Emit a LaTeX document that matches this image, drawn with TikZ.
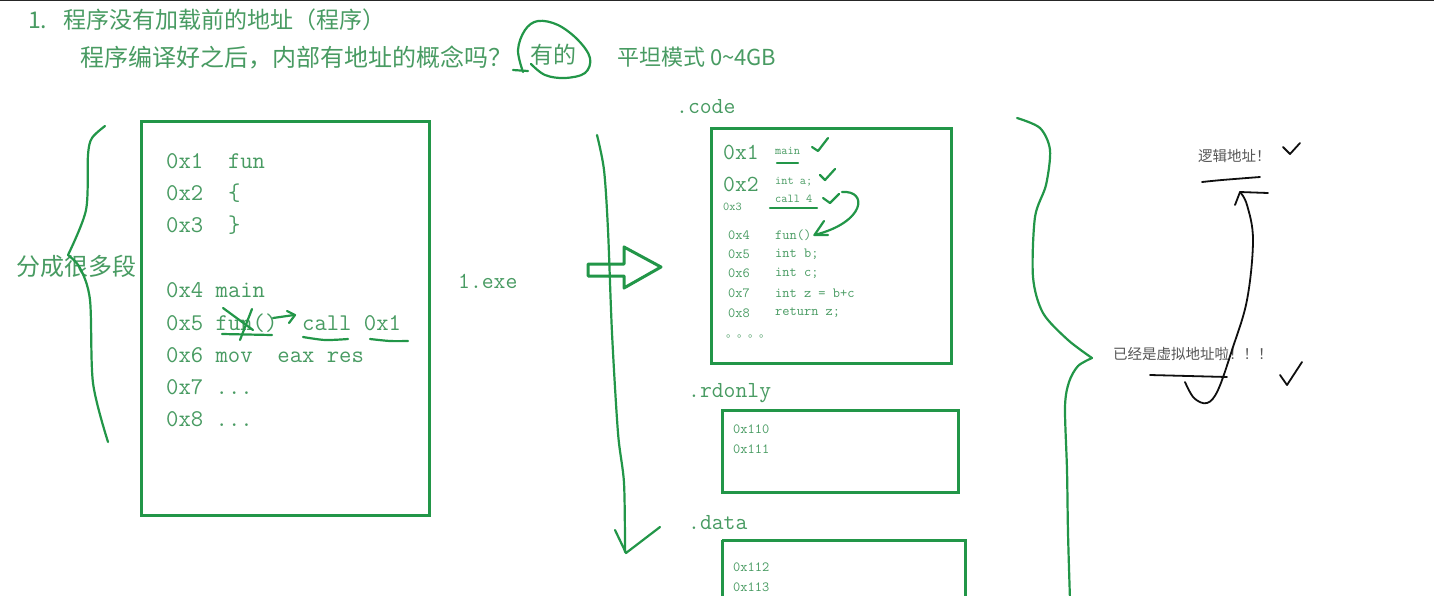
\documentclass[tikz,border=0pt]{standalone}
\usepackage{fontspec}
\newfontfamily\cjk{Noto Sans CJK SC}
\usetikzlibrary{arrows.meta, positioning, calc}
\definecolor{pengreen}{RGB}{34,150,72}
\definecolor{txtgreen}{RGB}{72,155,98}
\definecolor{inkblack}{RGB}{15,15,15}
\definecolor{notegray}{RGB}{85,85,85}

\begin{document}
\begin{tikzpicture}[
    x=1pt, y=-1pt,
    pen/.style={draw=pengreen, line width=2.2pt, line cap=round, line join=round},
    ink/.style={draw=inkblack, line width=1.8pt, line cap=round, line join=round},
    segbox/.style={draw=pengreen, line width=3pt},
    txt/.style={text=txtgreen, inner sep=0pt, anchor=west},
    zh/.style={txt, font=\fontsize{23}{27}\selectfont\cjk},
    asm/.style={txt, font=\fontsize{24}{28}\selectfont\ttfamily},
    tiny/.style={txt, font=\fontsize{14}{16}\selectfont\ttfamily},
    note/.style={inner sep=0pt, anchor=west, text=notegray, font=\fontsize{14.5}{17}\selectfont\cjk}
]
  \useasboundingbox (0,0) rectangle (1434,595);
  \fill[white] (0,0) rectangle (1434,595);
  \draw[line width=2.5pt, black!85] (0,0) -- (1434,0);

  % Heading
  \node[zh] (title) at (28,20) {1.\hspace{0.7em}程序没有加载前的地址（程序）};
  \node[zh, font=\fontsize{24}{28}\selectfont\cjk] (ask) at (80,57) {程序编译好之后，内部有地址的概念吗？};
  \node[zh] (yes) at (530,55) {有的};
  \node[zh, font=\fontsize{22}{26}\selectfont\cjk] (flat) at (617,57) {平坦模式 0\textasciitilde4GB};
  \draw[pen] plot[smooth, tension=0.6] coordinates {(523,72) (518,50) (525,30) (538,21) (558,25) (578,40) (590,58) (585,73) (565,78) (545,75) (531,64)};
  \draw[pen] (513,70) -- (528,71);

  % Program before loading
  \node[segbox, minimum width=288pt, minimum height=394pt, inner sep=0pt] (prog) at (285,318) {};
  \node[asm] (p1) at (166,161) {0x1\ \ fun};
  \node[asm] (p2) at (166,193) {0x2\ \ \{};
  \node[asm] (p3) at (166,225) {0x3\ \ \}};
  \node[asm] (p4) at (166,290) {0x4 main};
  \node[asm] (p5) at (166,323) {0x5 fun()\ \ call 0x1};
  \node[asm] (p6) at (166,355) {0x6 mov\ \ eax res};
  \node[asm] (p7) at (166,387) {0x7 ...};
  \node[asm] (p8) at (166,419) {0x8 ...};
  \draw[pen] (223,308) -- (253,330);
  \draw[pen] (252,309) -- (240,340);
  \draw[pen] (222,334) -- (272,335);
  \draw[pen] (273,318) -- (294,315);
  \draw[pen] (287,311) -- (295,315) -- (289,323);
  \draw[pen] plot[smooth] coordinates {(303,337) (325,340) (348,339)};
  \draw[pen] plot[smooth] coordinates {(370,339) (390,341) (408,341)};

  % Left brace
  \node[zh, font=\fontsize{24}{28}\selectfont\cjk] (segs) at (16,266) {分成很多段};
  \draw[pen] plot[smooth] coordinates {(105,126) (92,138) (88,155) (86,210) (68,255)};
  \draw[pen] plot[smooth] coordinates {(68,255) (80,268) (90,300) (93,383) (108,442)};

  % Middle
  \node[asm, font=\fontsize{23}{27}\selectfont\ttfamily] (exe) at (458,281) {1.exe};
  \draw[pen] plot[smooth] coordinates {(597,135) (604,170) (608,230) (612,333) (618,433) (624,483) (625,552)};
  \draw[pen] (615,530) -- (626,553) -- (660,527);
  \draw[pen, line width=3pt] (588,264) -- (624,264) -- (624,247) -- (661,267) -- (624,288) -- (624,276) -- (588,276) -- cycle;

  % .code section
  \node[asm, font=\fontsize{23}{27}\selectfont\ttfamily] (code) at (676,107) {.code};
  \node[segbox, minimum width=240pt, minimum height=235pt, inner sep=0pt] (codebox) at (831,245.5) {};
  \node[asm, font=\fontsize{23}{27}\selectfont\ttfamily] (c1) at (723,152) {0x1};
  \node[asm, font=\fontsize{23}{27}\selectfont\ttfamily] (c2) at (723,184) {0x2};
  \node[tiny, font=\fontsize{12}{14}\selectfont\ttfamily] (c3) at (723,207) {0x3};
  \node[tiny, font=\fontsize{12}{14}\selectfont\ttfamily] (cm) at (775,151) {main};
  \node[tiny, font=\fontsize{12}{14}\selectfont\ttfamily] (ca) at (775,182) {int a;};
  \node[tiny, font=\fontsize{12}{14}\selectfont\ttfamily] (cc) at (775,199) {call 4};
  \foreach \n/\y/\a/\s in {4/235/0x4/fun(), 5/254/0x5/int b;, 6/273/0x6/int c;, 7/293/0x7/int z = b+c, 8/313/0x8/return z;}{
    \node[tiny] (a\n) at (728,\y) {\a};
    \node[tiny] (f\n) at (775,\y) {\s};
  }
  \node[txt, font=\fontsize{11}{12}\selectfont\cjk] (cdots) at (726,336) {。。。。};
  \draw[pen] (777,163) -- (798,163);
  \draw[pen] (812,147) -- (818,151) -- (828,138);
  \draw[pen] (820,175) -- (825,180) -- (835,169);
  \draw[pen] (770,208) -- (817,208);
  \draw[pen] (823,198) -- (830,203) -- (839,194);
  \draw[pen] (842,192) .. controls (868,190) and (866,222) .. ([xshift=3pt]f4.east);
  \draw[pen] (824,221) -- ([xshift=3pt]f4.east) -- (828,235);

  % .rdonly section
  \node[asm, font=\fontsize{23}{27}\selectfont\ttfamily] (rdo) at (688,393) {.rdonly};
  \node[segbox, minimum width=236pt, minimum height=82pt, inner sep=0pt] (rdobox) at (840,451) {};
  \node[tiny] (r1) at (733,429) {0x110};
  \node[tiny] (r2) at (733,449) {0x111};

  % .data section
  \node[asm, font=\fontsize{23}{27}\selectfont\ttfamily] (dat) at (688,523) {.data};
  \draw[segbox] (722,540) -- (965,540) -- (965,610);
  \draw[segbox] (722,540) -- (722,610);
  \node[tiny] (d1) at (733,567) {0x112};
  \node[tiny] (d2) at (733,587) {0x113};

  % Right brace
  \draw[pen] plot[smooth] coordinates {(1017,118) (1040,128) (1050,150) (1046,185) (1035,217) (1033,277) (1043,313) (1068,340) (1092,358)};
  \draw[pen] plot[smooth] coordinates {(1092,358) (1078,366) (1069,382) (1065,407) (1067,470) (1068,533) (1070,600)};

  % Notes
  \node[note] (logic) at (1198,156) {逻辑地址！};
  \node[note] (virt) at (1113,354) {已经是虚拟地址啦！！！};
  \draw[ink] plot[smooth] coordinates {(1202,182) (1222,180) (1260,177)};
  \draw[ink] (1150,375) -- (1227,377);
  \draw[ink] (1283,147) -- (1290,154) -- (1300,143);
  \draw[ink] (1280,375) -- (1287,385) -- (1302,362);
  \draw[ink] plot[smooth, tension=0.6] coordinates {(1185,382) (1194,398) (1207,403) (1218,390) (1232,350) (1247,300) (1253,240) (1247,205) (1240,192)};
  \draw[ink] (1235,205) -- (1240,192) -- (1268,193);
\end{tikzpicture}
\end{document}
